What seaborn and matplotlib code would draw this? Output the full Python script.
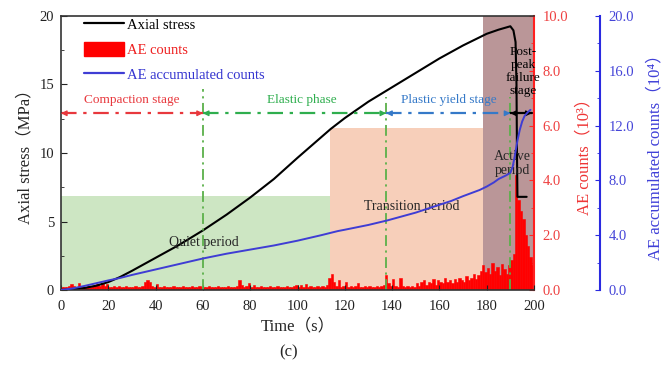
import matplotlib
matplotlib.use("Agg")
import matplotlib.pyplot as plt
import numpy as np
import seaborn as sns
from matplotlib.lines import Line2D
from matplotlib.patches import Patch
from matplotlib.ticker import MultipleLocator, FormatStrFormatter

sns.set_style("ticks")
FONT = ["Liberation Serif", "Noto Sans CJK SC", "DejaVu Sans"]
plt.rcParams["font.family"] = FONT

# ---- axial stress (MPa) vs time (s) ----
time_stress = [0, 5, 10, 15, 20, 25, 30, 40, 50, 60, 70, 80, 90, 100, 110,
               114, 120, 130, 140, 150, 160, 170, 180, 185, 188, 190, 191.3,
               192.2, 192.6, 192.8, 193.0, 196.9]
axial_stress = [0, 0.05, 0.15, 0.32, 0.58, 0.95, 1.4, 2.35, 3.3, 4.35, 5.5,
                6.75, 8.1, 9.65, 11.15, 11.75, 12.55, 13.75, 14.8, 15.85,
                16.9, 17.85, 18.7, 19.0, 19.15, 19.25, 18.95, 18.1, 15.0,
                10.0, 6.8, 6.8]

# ---- AE accumulated counts (x10^4) ----
time_acc = [0, 5, 10, 20, 25, 30, 40, 50, 60, 70, 80, 90, 100, 110, 117, 120,
            130, 138, 150, 157, 165, 170, 177, 180, 183, 185, 188, 190, 191,
            192, 193, 194, 195, 196, 197.5, 198.5]
acc_counts = [0, 0.12, 0.3, 0.7, 0.88, 1.1, 1.5, 1.9, 2.3, 2.65, 2.95, 3.25,
              3.6, 4.0, 4.3, 4.4, 4.75, 5.08, 5.65, 6.05, 6.5, 6.85, 7.3, 7.55,
              7.85, 8.1, 8.35, 8.55, 9.0, 9.9, 10.9, 11.7, 12.3, 12.7, 13.0,
              13.15]

# ---- AE counts (x10^3), one value per second ----
ae_time = np.arange(0, 200)
ae_counts = [
    0.10, 0.12, 0.12, 0.15, 0.22, 0.14, 0.12, 0.25, 0.15, 0.12,
    0.12, 0.14, 0.12, 0.15, 0.18, 0.22, 0.15, 0.25, 0.14, 0.22,
    0.12, 0.12, 0.14, 0.12, 0.15, 0.12, 0.12, 0.14, 0.12, 0.12,
    0.12, 0.14, 0.12, 0.12, 0.15, 0.30, 0.35, 0.28, 0.14, 0.12,
    0.22, 0.12, 0.12, 0.14, 0.12, 0.12, 0.12, 0.15, 0.12, 0.12,
    0.12, 0.14, 0.12, 0.12, 0.12, 0.15, 0.12, 0.12, 0.14, 0.12,
    0.12, 0.12, 0.14, 0.12, 0.12, 0.12, 0.15, 0.12, 0.12, 0.12,
    0.14, 0.12, 0.12, 0.12, 0.15, 0.35, 0.18, 0.12, 0.14, 0.25,
    0.12, 0.20, 0.12, 0.12, 0.14, 0.12, 0.12, 0.12, 0.15, 0.12,
    0.12, 0.14, 0.12, 0.12, 0.12, 0.15, 0.12, 0.12, 0.14, 0.20,
    0.12, 0.18, 0.12, 0.22, 0.12, 0.14, 0.12, 0.12, 0.15, 0.12,
    0.14, 0.12, 0.20, 0.45, 0.60, 0.30, 0.15, 0.35, 0.12, 0.14,
    0.30, 0.12, 0.15, 0.12, 0.14, 0.25, 0.12, 0.12, 0.15, 0.12,
    0.14, 0.12, 0.12, 0.15, 0.12, 0.14, 0.20, 0.55, 0.25, 0.14,
    0.40, 0.15, 0.12, 0.45, 0.14, 0.12, 0.15, 0.12, 0.14, 0.12,
    0.25, 0.15, 0.30, 0.35, 0.20, 0.30, 0.25, 0.40, 0.20, 0.35,
    0.30, 0.25, 0.45, 0.30, 0.35, 0.25, 0.40, 0.30, 0.45, 0.35,
    0.30, 0.50, 0.35, 0.45, 0.60, 0.40, 0.55, 0.70, 0.90, 0.65,
    0.80, 0.60, 1.00, 0.70, 0.85, 0.55, 0.95, 0.75, 0.60, 0.90,
    1.10, 1.30, 4.20, 3.30, 2.90, 2.60, 2.00, 1.60, 1.20, 0.90,
]

# ---- stage / period layout ----
stage_bounds = [0, 60, 137.5, 190, 199]
stage_names = ["Compaction stage", "Elastic phase", "Plastic yield stage"]
stage_colors = ["#e8383d", "#2fae4e", "#3579c8", "black"]
period_bounds = [0, 113.7, 178.3, 200]
period_heights = [6.85, 11.8, 20]
period_colors = ["#cde6c3", "#f7cfba", "#ba9698"]

fig = plt.figure(figsize=(6.69, 3.72), dpi=100)
ax = fig.add_axes([0.0912, 0.2204, 0.707, 0.7366])
ax_red = ax.twinx()
ax_blue = ax.twinx()

# layering: shading + AE bars at the bottom, stress curve above, cumulative on top
ax_red.set_zorder(0)
ax.set_zorder(1)
ax_blue.set_zorder(2)
ax.patch.set_visible(False)
ax_red.patch.set_visible(True)
ax_red.patch.set_facecolor("white")

# period shading
for x0, x1, h, c in zip(period_bounds[:-1], period_bounds[1:], period_heights, period_colors):
    ax_red.axvspan(x0, x1, ymin=0, ymax=h / 20, color=c, lw=0, zorder=0)

# AE counts bars
sns.histplot(x=ae_time, weights=ae_counts, binwidth=1, binrange=(0, 200),
             color="#ff0000", edgecolor="#ff0000", linewidth=0.4, alpha=1.0,
             ax=ax_red, zorder=2)

# axial stress
sns.lineplot(x=time_stress, y=axial_stress, color="black", lw=1.5,
             estimator=None, sort=False, ax=ax)

# cumulative AE counts
sns.lineplot(x=time_acc, y=acc_counts, color="#3f3dd4", lw=1.4,
             estimator=None, sort=False, ax=ax_blue)

# stage boundary lines
vline_tops = [14.7, 14.1, 14.1]
for xb, top in zip(stage_bounds[1:4], vline_tops):
    ax.plot([xb, xb], [0, top], color="#5bb04a", lw=1.3,
            ls=(0, (6, 2.5, 1.2, 2.5)))

# stage arrows
arrow_y = 12.9
dash = (0, (7, 3, 1.5, 3))
for i in range(4):
    x0, x1 = stage_bounds[i], stage_bounds[i + 1]
    c = stage_colors[i]
    ax.plot([x0, x1], [arrow_y, arrow_y], color=c, lw=1.6,
            ls=dash if i < 3 else "-")
    for tip, tail in ((x0, x0 + 1.0), (x1, x1 - 1.0)):
        ax.annotate("", xy=(tip, arrow_y), xytext=(tail, arrow_y),
                    arrowprops=dict(arrowstyle="-|>", color=c, lw=1.0,
                                    mutation_scale=8, shrinkA=0, shrinkB=0))

stage_text_x = [29.9, 101.9, 164]
for name, xt, c in zip(stage_names, stage_text_x, stage_colors):
    ax.text(xt, 13.85, name, color=c, fontsize=9.5, ha="center", va="center")
ax.text(195.3, 15.95, "Post-\npeak\nfailure\nstage", fontsize=9.5, ha="center",
        va="center", linespacing=1.12, color="black")

ax.text(60.2, 3.5, "Quiet period", fontsize=10, ha="center", va="center")
ax.text(148.3, 6.1, "Transition period", fontsize=10, ha="center", va="center")
ax.text(190.7, 9.25, "Active\nperiod", fontsize=10, ha="center", va="center",
        linespacing=1.1)

# primary axis
ax.set_xlim(0, 200)
ax.set_ylim(0, 20)
ax.set_xticks(np.arange(0, 201, 20))
ax.set_yticks([0, 5, 10, 15, 20])
ax.yaxis.set_minor_locator(MultipleLocator(2.5))
ax.tick_params(axis="both", which="both", direction="in", labelsize=10.5,
               colors="#222222")
ax.tick_params(axis="x", pad=7)
ax.tick_params(axis="y", which="major", length=4, pad=5)
ax.tick_params(axis="y", which="minor", length=2.5)
ax.tick_params(axis="y", right=False)
ax.set_xlabel("Time（s）", fontsize=12, labelpad=4)
ax.set_ylabel("Axial stress（MPa）", fontsize=12, labelpad=4)
for s in ("top", "left", "bottom"):
    ax.spines[s].set_color("#333333")
    ax.spines[s].set_linewidth(1.2)
ax.spines["right"].set_visible(False)

# AE counts axis
ax_red.set_xlim(0, 200)
ax_red.set_ylim(0, 10)
ax_red.yaxis.set_major_locator(MultipleLocator(2))
ax_red.yaxis.set_minor_locator(MultipleLocator(1))
ax_red.yaxis.set_major_formatter(FormatStrFormatter("%.1f"))
ax_red.tick_params(axis="y", which="both", direction="in", colors="#ff2a2a",
                   labelcolor="#ee4040", labelsize=10.5, pad=6)
ax_red.tick_params(axis="y", which="minor", length=2.5)
ax_red.set_ylabel("AE counts（10³）", color="#ee3535", fontsize=12, labelpad=6)
ax_red.set_xlabel("")
for s in ("top", "left", "bottom"):
    ax_red.spines[s].set_visible(False)
ax_red.spines["right"].set_color("#ff2020")
ax_red.spines["right"].set_linewidth(1.5)
ax_red.tick_params(axis="x", bottom=False, labelbottom=False)

# cumulative counts axis
ax_blue.set_xlim(0, 200)
ax_blue.set_ylim(0, 20)
ax_blue.spines["right"].set_position(("outward", 47.5))
ax_blue.yaxis.set_major_locator(MultipleLocator(4))
ax_blue.yaxis.set_minor_locator(MultipleLocator(2))
ax_blue.yaxis.set_major_formatter(FormatStrFormatter("%.1f"))
ax_blue.tick_params(axis="y", which="both", direction="in", colors="#2a2ae0",
                    labelcolor="#4545d8", labelsize=10.5, pad=6)
ax_blue.tick_params(axis="y", which="minor", length=2.5)
ax_blue.set_ylabel("AE accumulated counts（10⁴）", color="#3f3fd8",
                   fontsize=12, labelpad=10)
for s in ("top", "left", "bottom"):
    ax_blue.spines[s].set_visible(False)
ax_blue.spines["right"].set_color("#2a2ae0")
ax_blue.spines["right"].set_linewidth(1.5)
ax_blue.tick_params(axis="x", bottom=False, labelbottom=False)

# legend
handles = [Line2D([], [], color="black", lw=1.6),
           Patch(facecolor="#ff0000", edgecolor="#ff0000"),
           Line2D([], [], color="#3f3dd4", lw=1.6)]
labels = ["Axial stress", "AE counts", "AE accumulated counts"]
leg = ax_blue.legend(handles, labels, loc="upper left",
                     bbox_to_anchor=(0.02, 1.045), frameon=False,
                     fontsize=10.5, handlelength=2.75, handleheight=1.1,
                     handletextpad=0.25, labelspacing=0.7)
for txt, c in zip(leg.get_texts(), ["black", "#ee2020", "#3535d0"]):
    txt.set_color(c)

fig.text(0.432, 0.052, "(c)", ha="center", va="center", fontsize=12)

fig.savefig("out.png", dpi=100, facecolor="white")
